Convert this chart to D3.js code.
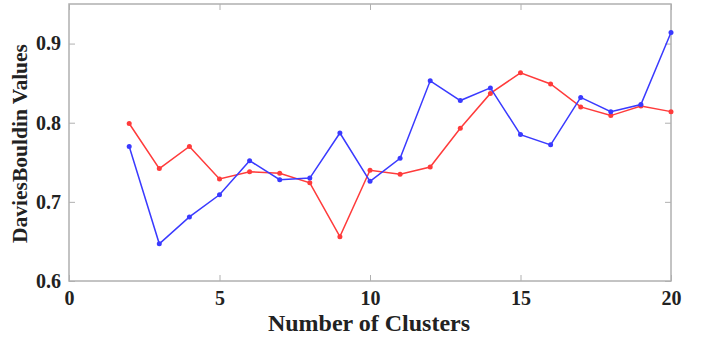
<!DOCTYPE html>
<html><head><meta charset="utf-8">
<script src="https://cdn.jsdelivr.net/npm/d3@7"></script>
<style>body{margin:0;background:#fff}svg{display:block}</style>
</head><body>
<script>
const clusters = [2,3,4,5,6,7,8,9,10,11,12,13,14,15,16,17,18,19,20];
const blueValues = [0.770,0.647,0.681,0.709,0.752,0.728,0.730,0.787,0.726,0.755,0.853,0.828,0.844,0.785,0.772,0.832,0.814,0.823,0.914];
const redValues  = [0.799,0.742,0.770,0.729,0.738,0.736,0.724,0.656,0.740,0.735,0.744,0.793,0.837,0.863,0.849,0.820,0.809,0.821,0.814];
const xTicks = [0,5,10,15,20];
const yTicks = [0.6,0.7,0.8,0.9];

const W=709,H=337;
const m={l:69,r:709-671,t:4,b:337-281};
const svg=d3.select("body").append("svg").attr("width",W).attr("height",H);
const x=d3.scaleLinear().domain([0,20]).range([m.l,W-m.r]);
const y=d3.scaleLinear().domain([0.6,0.95]).range([H-m.b,m.t]);
const font="'Liberation Serif','Times New Roman',serif";
const axisColor="#b0b0b0";

svg.append("rect").attr("x",x(0)).attr("y",y(0.95)).attr("width",x(20)-x(0)).attr("height",y(0.6)-y(0.95))
  .attr("fill","none").attr("stroke",axisColor).attr("stroke-width",1.5);

function styleAxis(g){
  g.select(".domain").remove();
  g.selectAll(".tick line").attr("stroke",axisColor).attr("stroke-width",1);
  g.selectAll(".tick text").attr("fill","#222").attr("font-family",font).attr("font-weight","bold").attr("font-size","20px");
}
const tl=6;
svg.append("g").attr("transform",`translate(0,${y(0.6)})`)
  .call(d3.axisBottom(x).tickValues(xTicks).tickFormat(d3.format("d")).tickSize(-tl).tickPadding(10))
  .call(styleAxis);
svg.append("g").attr("transform",`translate(0,${y(0.95)})`)
  .call(d3.axisTop(x).tickValues(xTicks).tickFormat("").tickSize(-tl)).call(styleAxis);
svg.append("g").attr("transform",`translate(${x(0)},0)`)
  .call(d3.axisLeft(y).tickValues(yTicks).tickFormat(d3.format(".1f")).tickSize(-tl).tickPadding(8))
  .call(styleAxis);
svg.append("g").attr("transform",`translate(${x(20)},0)`)
  .call(d3.axisRight(y).tickValues(yTicks).tickFormat("").tickSize(-tl)).call(styleAxis);

const series=[{v:redValues,c:"#ff3b3b"},{v:blueValues,c:"#3a3aff"}];
const line=d3.line().x((d,i)=>x(clusters[i])).y(d=>y(d));
series.forEach(s=>{
  svg.append("path").datum(s.v).attr("d",line).attr("fill","none").attr("stroke",s.c).attr("stroke-width",1.5);
  svg.append("g").selectAll("circle").data(s.v).join("circle")
    .attr("cx",(d,i)=>x(clusters[i])).attr("cy",d=>y(d)).attr("r",2.5).attr("fill",s.c);
});

svg.append("text").attr("x",369).attr("y",331).attr("text-anchor","middle")
  .attr("font-family",font).attr("font-weight","bold").attr("font-size","24px").attr("fill","#222")
  .text("Number of Clusters");
svg.append("text").attr("transform",`translate(27,${(y(0.6)+y(0.95))/2+1}) rotate(-90)`).attr("text-anchor","middle")
  .attr("font-family",font).attr("font-weight","bold").attr("font-size","21.5px").attr("fill","#222")
  .text("DaviesBouldin Values");
</script>
</body></html>
